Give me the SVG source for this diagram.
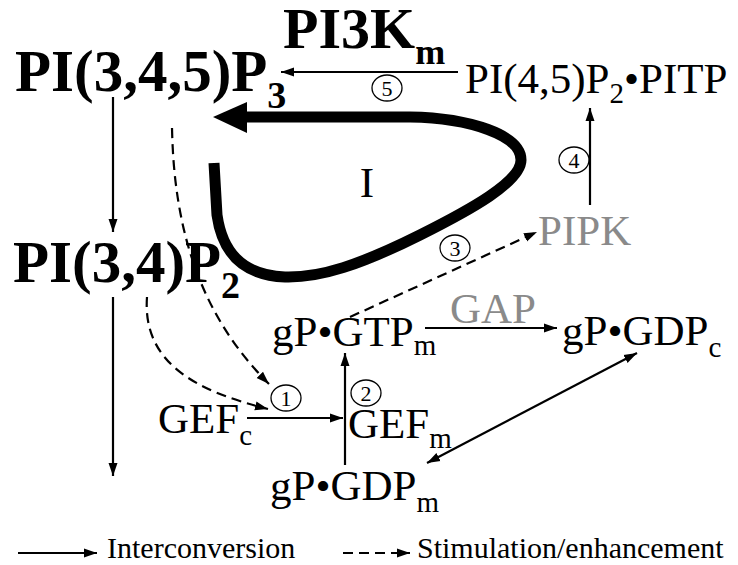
<svg xmlns="http://www.w3.org/2000/svg" width="738" height="565" viewBox="0 0 738 565">
<style>
text{font-family:"Liberation Serif","Times New Roman",serif;fill:#000}
.b{font-weight:bold}
.r{font-size:43px}
.g{fill:#8a8a8a}
.sub{font-size:29px}
.num{font-size:22px;text-anchor:middle}
.leg{font-size:30px}
.ln{fill:none;stroke:#000;stroke-width:2.2}
.da{fill:none;stroke:#000;stroke-width:2.2;stroke-dasharray:10 6}
.circ{fill:none;stroke:#000;stroke-width:1.3}
</style>
<defs>
<marker id="ah" markerUnits="userSpaceOnUse" markerWidth="14" markerHeight="10" refX="13" refY="5" orient="auto-start-reverse">
<path d="M0,0.5 L13,5 L0,9.5 z" fill="#000"/>
</marker>
</defs>
<rect width="738" height="565" fill="#fff"/>

<g id="connectors">
<line class="ln" x1="458" y1="72" x2="281" y2="72" marker-end="url(#ah)"/>
<path d="M247,117 L410,117 C470,118 521,135 521,160 C521,182 470,210 420,235 C360,265 320,278 285,277 C240,275 222,250 217,215 L214,163" fill="none" stroke="#000" stroke-width="11"/>
<polygon points="213,117 247,102 247,133" fill="#000"/>
<line class="ln" x1="113" y1="97" x2="113" y2="232" marker-end="url(#ah)"/>
<line class="ln" x1="113" y1="297" x2="113" y2="476" marker-end="url(#ah)"/>
<path class="da" d="M172,128 C174,230 200,315 269,384" marker-end="url(#ah)"/>
<path class="da" d="M147,297 C142,365 200,392 268,409" marker-end="url(#ah)"/>
<line class="ln" x1="247" y1="418" x2="343" y2="418" marker-end="url(#ah)"/>
<line class="ln" x1="345" y1="465" x2="345" y2="353" marker-end="url(#ah)"/>
<line class="ln" x1="425" y1="328" x2="557" y2="328" marker-end="url(#ah)"/>
<line class="ln" x1="427" y1="463" x2="637" y2="353" marker-start="url(#ah)" marker-end="url(#ah)"/>
<line class="da" x1="350" y1="317" x2="537" y2="232" marker-end="url(#ah)"/>
<line class="ln" x1="590" y1="205" x2="590" y2="108" marker-end="url(#ah)"/>
</g>

<g id="n-pi3k"><text class="b" x="283" y="48" font-size="58">PI3K<tspan dy="16" font-size="36">m</tspan></text></g>
<g id="n-pip3"><text class="b" x="15" y="91" font-size="59">PI(3,4,5)P<tspan dy="17" font-size="38">3</tspan></text></g>
<g id="n-pi34p2"><text class="b" x="13" y="282" font-size="59">PI(3,4)P<tspan dy="16" font-size="38">2</tspan></text></g>
<g id="n-pip2pitp"><text class="r" x="465" y="93">PI(4,5)P<tspan class="sub" dy="10">2</tspan><tspan dy="-10">•PITP</tspan></text></g>
<g id="n-loop"><text class="r" x="367" y="197" text-anchor="middle">I</text></g>
<g id="n-pipk"><text class="r g" x="538" y="245">PIPK</text></g>
<g id="n-gap"><text class="r g" x="450" y="323">GAP</text></g>
<g id="n-gtpm"><text class="r" x="272" y="346">gP•GTP<tspan class="sub" dy="9">m</tspan></text></g>
<g id="n-gdpc"><text class="r" x="562" y="345">gP•GDP<tspan class="sub" dy="12">c</tspan></text></g>
<g id="n-gefc"><text class="r" x="158" y="433">GEF<tspan class="sub" dy="12">c</tspan></text></g>
<g id="n-gefm"><text class="r" x="348" y="438">GEF<tspan class="sub" dy="10">m</tspan></text></g>
<g id="n-gdpm"><text class="r" x="270" y="500">gP•GDP<tspan class="sub" dy="12">m</tspan></text></g>

<g id="labels">
<ellipse class="circ" cx="387" cy="88" rx="15" ry="13"/><text class="num" x="387" y="96">5</text>
<ellipse class="circ" cx="574" cy="160" rx="15" ry="13"/><text class="num" x="574" y="168">4</text>
<ellipse class="circ" cx="455" cy="248" rx="15" ry="13"/><text class="num" x="455" y="256">3</text>
<ellipse class="circ" cx="286" cy="398" rx="15" ry="13"/><text class="num" x="286" y="406">1</text>
<ellipse class="circ" cx="366" cy="393" rx="15" ry="13"/><text class="num" x="366" y="401">2</text>
</g>

<g id="legend">
<line class="ln" x1="18" y1="553" x2="97" y2="553" marker-end="url(#ah)"/>
<text class="leg" x="107" y="558">Interconversion</text>
<line class="da" x1="343" y1="553" x2="410" y2="553" marker-end="url(#ah)"/>
<text class="leg" x="417" y="558">Stimulation/enhancement</text>
</g>
</svg>
